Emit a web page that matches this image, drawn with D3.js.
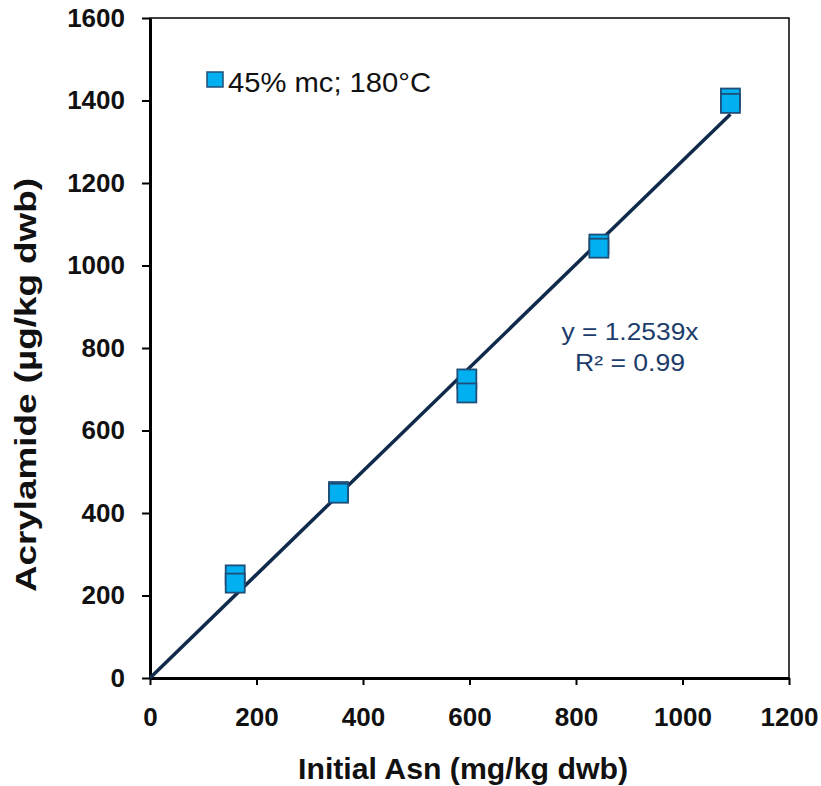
<!DOCTYPE html>
<html><head><meta charset="utf-8">
<script src="https://cdn.jsdelivr.net/npm/d3@7"></script>
<style>body{margin:0;background:#fff}svg{display:block}</style>
</head><body>
<script>
const asn = [160, 160, 354, 354, 595, 595, 843, 843, 1090, 1090];
const acrylamide = [250, 230, 452, 448, 725, 691, 1052, 1042, 1406, 1393];
const slope = 1.2539;
const fitRange = [0, 1090];
const xTicks = [0, 200, 400, 600, 800, 1000, 1200];
const yTicks = [0, 200, 400, 600, 800, 1000, 1200, 1400, 1600];
const legendLabel = "45% mc; 180°C";
const eqLines = ["y = 1.2539x", "R² = 0.99"];

const W = 821, H = 786;
const m = {l: 150, r: 789, t: 18, b: 678};
const svg = d3.select("body").append("svg").attr("width", W).attr("height", H);
const x = d3.scaleLinear().domain([0, 1200]).range([m.l, m.r]);
const y = d3.scaleLinear().domain([0, 1600]).range([m.b, m.t]);

// box
svg.append("rect").attr("x", m.l).attr("y", m.t).attr("width", m.r - m.l).attr("height", m.b - m.t)
  .attr("fill", "none").attr("stroke", "#000").attr("stroke-width", 1.5);

const font = "Arial, 'Liberation Sans', sans-serif";
const fmt = d3.format("d");
const xAxis = svg.append("g").attr("transform", `translate(0,${m.b})`)
  .call(d3.axisBottom(x).tickValues(xTicks).tickFormat(fmt).tickSize(7).tickSizeOuter(0).tickPadding(23));
const yAxis = svg.append("g").attr("transform", `translate(${m.l},0)`)
  .call(d3.axisLeft(y).tickValues(yTicks).tickFormat(fmt).tickSize(8).tickSizeOuter(0).tickPadding(17));
[xAxis, yAxis].forEach(a => {
  a.select(".domain").attr("stroke", "#000").attr("stroke-width", 3);
  a.selectAll(".tick line").attr("stroke", "#000").attr("stroke-width", 2);
  a.selectAll(".tick text").attr("font-family", font).attr("font-weight", "bold")
    .attr("font-size", 26).attr("fill", "#111");
});

// fit line
svg.append("line")
  .attr("x1", x(fitRange[0])).attr("y1", y(slope * fitRange[0]))
  .attr("x2", x(fitRange[1])).attr("y2", y(slope * fitRange[1]))
  .attr("stroke", "#0f2a4a").attr("stroke-width", 3.5);

// markers
const s = 19;
svg.append("g").selectAll("rect").data(asn.map((v, i) => [v, acrylamide[i]])).join("rect")
  .attr("x", d => x(d[0]) - s / 2).attr("y", d => y(d[1]) - s / 2)
  .attr("width", s).attr("height", s)
  .attr("fill", "#00b0f0").attr("stroke", "#1f4e79").attr("stroke-width", 1.8);

// legend
svg.append("rect").attr("x", 207).attr("y", 72).attr("width", 16).attr("height", 15)
  .attr("fill", "#00b0f0").attr("stroke", "#1f4e79").attr("stroke-width", 1.5);
svg.append("text").attr("x", 228).attr("y", 92).text(legendLabel)
  .attr("font-family", font).attr("font-size", 28).attr("fill", "#111")
  .attr("textLength", 203).attr("lengthAdjust", "spacingAndGlyphs");

// equation
const eqW = [137, 110];
svg.append("g").selectAll("text").data(eqLines).join("text")
  .attr("x", (d, i) => 630 - eqW[i] / 2).attr("y", (d, i) => 340 + i * 31)
  .attr("font-family", font).attr("font-size", 23).attr("fill", "#1c3d6b")
  .attr("textLength", (d, i) => eqW[i]).attr("lengthAdjust", "spacingAndGlyphs")
  .text(d => d);

// axis titles
svg.append("text").attr("x", 463 - 165).attr("y", 779)
  .attr("font-family", font).attr("font-weight", "bold").attr("font-size", 29).attr("fill", "#111")
  .attr("textLength", 330).attr("lengthAdjust", "spacingAndGlyphs")
  .text("Initial Asn (mg/kg dwb)");
svg.append("text").attr("transform", "translate(36,592) rotate(-90)")
  .attr("font-family", font).attr("font-weight", "bold").attr("font-size", 29).attr("fill", "#111")
  .attr("textLength", 414).attr("lengthAdjust", "spacingAndGlyphs")
  .text("Acrylamide (µg/kg dwb)");
</script>
</body></html>
